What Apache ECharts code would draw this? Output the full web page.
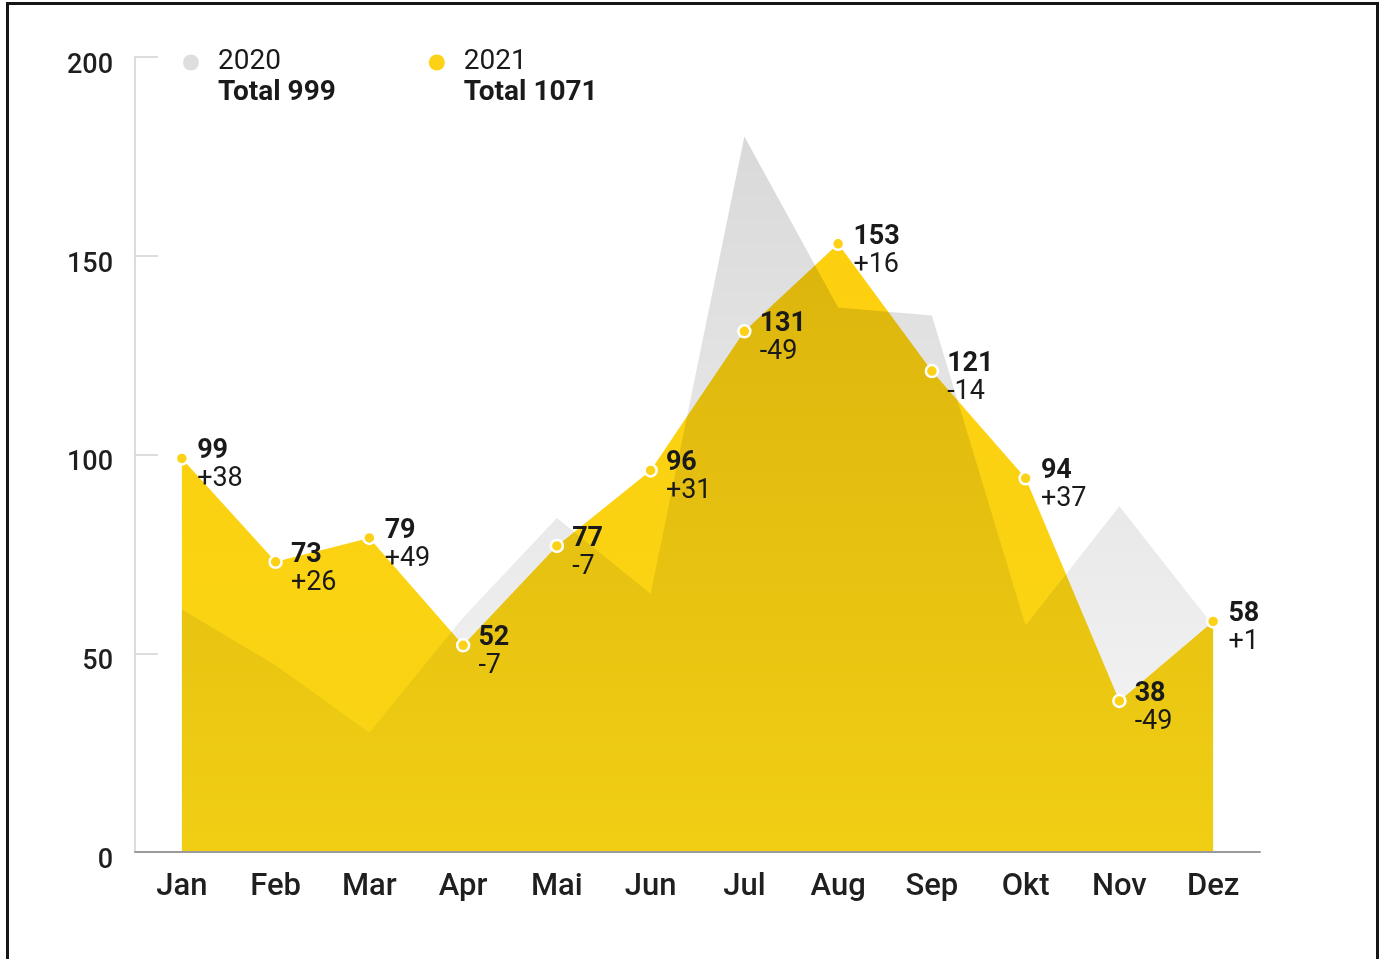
<!DOCTYPE html>
<html>
<head>
<meta charset="utf-8">
<script src="https://cdn.jsdelivr.net/npm/echarts@6/dist/echarts.min.js"></script>
<style>
  html, body { margin: 0; padding: 0; background: #fff; overflow: hidden; }
  #frame { position: absolute; left: 6px; top: 2px; width: 1373px; height: 1000px; border: 3px solid #161616; box-sizing: border-box; }
  #chart { position: absolute; left: 0; top: 0; width: 1384px; height: 959px; }
</style>
</head>
<body>
<div id="frame"></div>
<div id="chart"></div>
<script>
const months = ["Jan", "Feb", "Mar", "Apr", "Mai", "Jun", "Jul", "Aug", "Sep", "Okt", "Nov", "Dez"];
const values2020 = [61, 47, 30, 59, 84, 65, 180, 137, 135, 57, 87, 57];
const values2021 = [99, 73, 79, 52, 77, 96, 131, 153, 121, 94, 38, 58];
const seriesNames = ["2020", "2021"];

const FONT = "Roboto, 'Liberation Sans', sans-serif";
const YELLOW = "#fcd116";
const total = (arr) => arr.reduce((a, b) => a + b, 0);
const totals = { "2020": total(values2020), "2021": total(values2021) };

const chart = echarts.init(document.getElementById("chart"));

chart.setOption({
  animation: false,
  backgroundColor: "transparent",
  grid: { left: 135, right: 124, top: 57, bottom: 107 },
  legend: {
    left: 183,
    top: 48,
    padding: 0,
    itemGap: 93,
    itemWidth: 20,
    itemHeight: 16,
    icon: "circle",
    selectedMode: false,
    data: [
      { name: "2020", itemStyle: { color: "#dedede" } },
      { name: "2021", itemStyle: { color: YELLOW } },
    ],
    formatter: (name) => "{y|" + name + "}\n{t|Total " + totals[name] + "}",
    textStyle: {
      fontFamily: FONT,
      color: "#1a1a1a",
      padding: [30, 0, 0, 12],
      rich: {
        y: { fontFamily: FONT, fontSize: 28, lineHeight: 31, color: "#1a1a1a" },
        t: { fontFamily: FONT, fontSize: 28, lineHeight: 31, fontWeight: "bold", color: "#1a1a1a" },
      },
    },
  },
  xAxis: {
    type: "category",
    data: months,
    boundaryGap: true,
    z: 3,
    axisLine: { lineStyle: { color: "#9a9a9a", width: 2 } },
    axisTick: { inside: true, length: 12, alignWithLabel: true, lineStyle: { color: "#9a9a9a", width: 1.5 } },
    axisLabel: { fontFamily: FONT, fontSize: 31, fontWeight: 500, color: "#1f1f1f", margin: 20 },
    splitLine: { show: false },
  },
  yAxis: {
    type: "value",
    min: 0,
    max: 200,
    interval: 50,
    axisLine: { show: true, lineStyle: { color: "#d2d2d2", width: 1.5 } },
    axisTick: { show: true, inside: true, length: 23, lineStyle: { color: "#d2d2d2", width: 1.5 } },
    axisLabel: {
      fontFamily: FONT, fontSize: 27, fontWeight: 500, color: "#1f1f1f", margin: 22,
      verticalAlign: "top", lineHeight: 18,
    },
    splitLine: { show: false },
  },
  series: [
    {
      name: seriesNames[1],
      type: "line",
      data: values2021,
      symbol: "none",
      lineStyle: { width: 0, opacity: 0 },
      areaStyle: {
        opacity: 1,
        color: new echarts.graphic.LinearGradient(0, 0, 0, 1, [
          { offset: 0, color: "#fdd00f" },
          { offset: 1, color: "#f8d515" },
        ]),
      },
    },
    {
      name: seriesNames[0],
      type: "line",
      data: values2020,
      symbol: "none",
      lineStyle: { width: 0, opacity: 0 },
      areaStyle: {
        opacity: 1,
        color: new echarts.graphic.LinearGradient(0, 0, 0, 1, [
          { offset: 0, color: "rgba(0,0,0,0.15)" },
          { offset: 1, color: "rgba(0,0,0,0.03)" },
        ]),
      },
    },
    {
      name: seriesNames[1],
      type: "line",
      data: values2021,
      symbol: "circle",
      symbolSize: 12,
      lineStyle: { width: 0, opacity: 0 },
      itemStyle: { color: YELLOW, borderColor: "#ffffff", borderWidth: 2.5 },
      label: {
        show: true,
        position: "right",
        distance: 8,
        offset: [0, 7],
        formatter: (p) => {
          const d = values2021[p.dataIndex] - values2020[p.dataIndex];
          return "{v|" + values2021[p.dataIndex] + "}\n{d|" + (d > 0 ? "+" : "") + d + "}";
        },
        rich: {
          v: { fontFamily: FONT, fontSize: 27, fontWeight: "bold", lineHeight: 28, color: "#1a1a1a" },
          d: { fontFamily: FONT, fontSize: 27, lineHeight: 28, color: "#1a1a1a" },
        },
      },
    },
  ],
});
</script>
</body>
</html>
